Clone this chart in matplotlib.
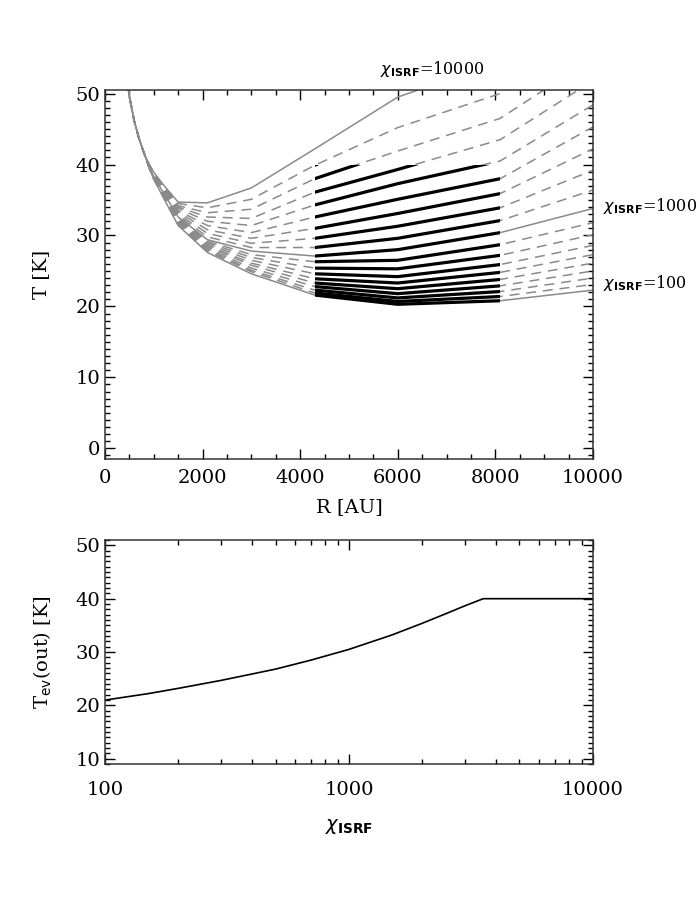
import numpy as np
import matplotlib
matplotlib.use("Agg")
import matplotlib.pyplot as plt
from matplotlib.patches import Rectangle
from matplotlib.ticker import MultipleLocator, FixedLocator, NullFormatter

plt.rcParams['font.family'] = ['DejaVu Serif']
plt.rcParams['mathtext.fontset'] = 'dejavusans'

# ── data: upper panel, T(R) for each chi_ISRF ──
CHI = [100, 200, 300, 400, 500, 600, 700, 800, 900, 1000,
       2000, 3000, 4000, 5000, 6000, 7000, 8000, 9000, 10000]

# inner envelope, common to all curves
R_INNER = [450, 500, 600, 700, 800]
T_INNER = [51.8, 49.6, 46.1, 43.6, 41.6]

# outer radii
R_OUTER = [900, 1000, 1200, 1500, 2100, 3000, 4300, 6000, 8100, 10000]
T_OUTER = [
    [39.6, 37.9, 35.3, 31.4, 27.6, 24.6, 21.6, 20.3, 20.8, 22.3],   # 100
    [39.6, 38.0, 35.4, 31.5, 27.8, 24.9, 21.9, 20.7, 21.4, 23.1],   # 200
    [39.6, 38.0, 35.4, 31.7, 28.0, 25.1, 22.3, 21.2, 22.1, 24.0],   # 300
    [39.7, 38.0, 35.5, 31.8, 28.2, 25.4, 22.8, 21.8, 22.9, 25.0],   # 400
    [39.7, 38.1, 35.6, 31.9, 28.4, 25.8, 23.3, 22.5, 23.8, 26.1],   # 500
    [39.7, 38.1, 35.7, 32.1, 28.6, 26.1, 23.9, 23.3, 24.8, 27.3],   # 600
    [39.7, 38.2, 35.7, 32.2, 28.8, 26.5, 24.6, 24.2, 25.9, 28.6],   # 700
    [39.8, 38.2, 35.8, 32.3, 29.0, 26.9, 25.4, 25.3, 27.2, 30.1],   # 800
    [39.8, 38.3, 35.9, 32.5, 29.2, 27.3, 26.3, 26.5, 28.7, 31.8],   # 900
    [39.8, 38.3, 36.0, 32.6, 29.4, 27.8, 27.1, 28.0, 30.4, 33.8],   # 1000
    [39.8, 38.4, 36.1, 32.8, 29.8, 28.3, 28.3, 29.6, 32.1, 36.4],   # 2000
    [39.9, 38.4, 36.2, 33.0, 30.3, 28.9, 29.6, 31.3, 33.9, 39.2],   # 3000
    [39.9, 38.5, 36.4, 33.3, 30.8, 29.6, 31.0, 33.1, 35.9, 42.2],   # 4000
    [39.9, 38.6, 36.5, 33.5, 31.4, 30.4, 32.6, 35.1, 38.0, 45.3],   # 5000
    [40.0, 38.6, 36.6, 33.8, 32.0, 31.4, 34.3, 37.3, 40.5, 48.4],   # 6000
    [40.0, 38.7, 36.8, 34.0, 32.6, 32.4, 36.1, 39.3, 43.5, 51.8],   # 7000
    [40.0, 38.8, 36.9, 34.2, 33.2, 33.7, 38.0, 41.9, 46.5, 55.0],   # 8000
    [40.1, 38.8, 37.0, 34.5, 33.9, 35.1, 39.9, 45.2, 50.0, 58.0],   # 9000
    [40.1, 38.9, 37.1, 34.7, 34.6, 36.7, 42.2, 49.5, 54.5, 61.0],   # 10000
]
CHI_SOLID = [100, 1000, 10000]

# region drawn in black: R_in..R_out and T <= T_ev max
R_EV_IN, R_EV_OUT, T_EV_MAX = 4300, 8100, 40.0

# ── data: lower panel ──
CHI_OUT = [100, 150, 200, 300, 500, 700, 1000, 1500, 2000, 2500, 3000, 3550, 10000]
T_EV_OUT = [21.0, 22.2, 23.2, 24.7, 26.8, 28.5, 30.5, 33.2, 35.4, 37.2, 38.7, 40.0, 40.0]

GRAY = '#8a8a8a'
FS = 14
FS_LAB = 11.5


def style_axes(ax):
    ax.tick_params(which='both', direction='in', top=True, right=True,
                   labelsize=FS, width=1.0)
    ax.tick_params(which='major', length=7)
    ax.tick_params(which='minor', length=3.5)
    for s in ax.spines.values():
        s.set_linewidth(1.1)
        s.set_color('#333333')


fig = plt.figure(figsize=(7, 9), dpi=100)

# ── upper panel ──
ax1 = fig.add_axes([0.15, 0.49, 0.697, 0.41])
R_all = np.array(R_INNER + R_OUTER, dtype=float)
clip = Rectangle((R_EV_IN, -10), R_EV_OUT - R_EV_IN, T_EV_MAX + 10,
                 transform=ax1.transData)
for chi, t_out in zip(CHI, T_OUTER):
    T_all = np.array(T_INNER + t_out, dtype=float)
    if chi in CHI_SOLID:
        ax1.plot(R_all, T_all, color=GRAY, lw=1.1)
    else:
        ax1.plot(R_all, T_all, color=GRAY, lw=1.1, ls=(0, (6.5, 4.5)))
    blk, = ax1.plot(R_all, T_all, color='black', lw=2.3, solid_capstyle='butt')
    blk.set_clip_path(clip)

ax1.set_xlim(0, 10000)
ax1.set_ylim(-1.5, 50.5)
ax1.xaxis.set_major_locator(MultipleLocator(2000))
ax1.xaxis.set_minor_locator(MultipleLocator(500))
ax1.yaxis.set_major_locator(MultipleLocator(10))
ax1.yaxis.set_minor_locator(MultipleLocator(1))
style_axes(ax1)
ax1.tick_params(axis='x', pad=7)
ax1.set_xlabel('R [AU]', fontsize=FS)
ax1.set_ylabel('T [K]', fontsize=FS)
ax1.xaxis.set_label_coords(0.5, -0.105)
ax1.yaxis.set_label_coords(-0.113, 0.5)

ax1.text(6700, 53.4, r'$\chi_{\mathbf{ISRF}}$=10000', fontsize=FS_LAB,
         ha='center', va='center', clip_on=False)
ax1.text(10200, 34.1, r'$\chi_{\mathbf{ISRF}}$=1000', fontsize=FS_LAB,
         ha='left', va='center', clip_on=False)
ax1.text(10200, 23.3, r'$\chi_{\mathbf{ISRF}}$=100', fontsize=FS_LAB,
         ha='left', va='center', clip_on=False)

# ── lower panel ──
ax2 = fig.add_axes([0.15, 0.151, 0.697, 0.249])
ax2.plot(CHI_OUT, T_EV_OUT, color='black', lw=1.2)
ax2.set_xscale('log')
ax2.set_xlim(100, 10000)
ax2.set_ylim(9, 51)
ax2.xaxis.set_major_locator(FixedLocator([100, 1000, 10000]))
ax2.set_xticklabels(['100', '1000', '10000'])
ax2.xaxis.set_minor_formatter(NullFormatter())
ax2.yaxis.set_major_locator(MultipleLocator(10))
ax2.yaxis.set_minor_locator(MultipleLocator(1))
style_axes(ax2)
ax2.tick_params(axis='x', which='both', pad=12)
ax2.set_xlabel(r'$\chi_{\mathbf{ISRF}}$', fontsize=FS)
ax2.set_ylabel(r'T$_{\mathrm{ev}}$(out) [K]', fontsize=FS)
ax2.xaxis.set_label_coords(0.5, -0.235)
ax2.yaxis.set_label_coords(-0.105, 0.5)

fig.savefig('out.png', dpi=100, facecolor='white')
